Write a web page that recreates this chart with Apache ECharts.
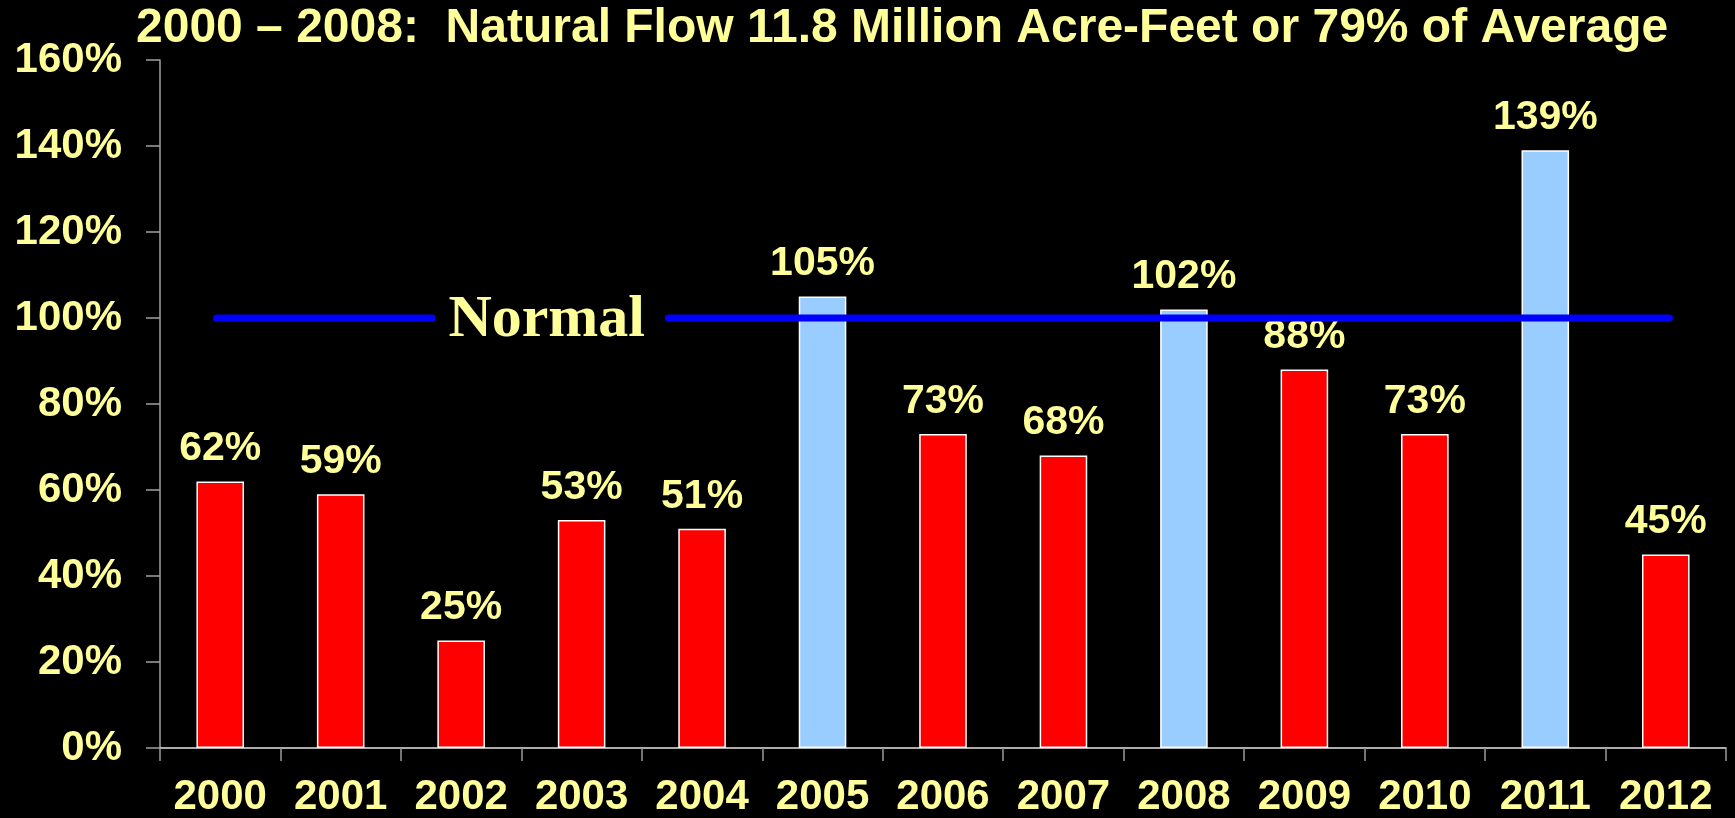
<!DOCTYPE html>
<html>
<head>
<meta charset="utf-8">
<script src="https://cdn.jsdelivr.net/npm/echarts@6/dist/echarts.min.js"></script>
<style>
  html, body { margin: 0; padding: 0; background: #000; }
  #chart { width: 1735px; height: 818px; }
</style>
</head>
<body>
<div id="chart"></div>
<script>
const years = ['2000', '2001', '2002', '2003', '2004', '2005', '2006', '2007', '2008', '2009', '2010', '2011', '2012'];
const flowPct = [62, 59, 25, 53, 51, 105, 73, 68, 102, 88, 73, 139, 45];
const yTicks = [0, 20, 40, 60, 80, 100, 120, 140, 160];
// normal line, in category units along the year axis
const normalLeft = [[0.47, 100], [2.26, 100]];
const normalRight = [[4.22, 100], [12.53, 100]];
const normalLabelAt = [[3.21, 100]];

const yellow = '#ffff99';
const red = '#ff0000';
const blue = '#99ccff';

const chart = echarts.init(document.getElementById('chart'));

const barData = flowPct.map(v => ({
  value: v,
  itemStyle: { color: v >= 100 ? blue : red },
}));

const normalLine = data => ({
  type: 'line',
  xAxisIndex: 1,
  data: data,
  symbol: 'none',
  silent: true,
  z: 5,
  lineStyle: { color: '#0000ff', width: 7, cap: 'round' },
});

chart.setOption({
  backgroundColor: '#000',
  animation: false,
  title: {
    text: '2000 – 2008:  Natural Flow 11.8 Million Acre-Feet or 79% of Average',
    left: 131,
    top: 0,
    textStyle: {
      color: yellow,
      fontFamily: 'Liberation Sans, Arial, sans-serif',
      fontWeight: 'bold',
      fontSize: 48,
    },
  },
  grid: { left: 160, right: 9, top: 60, bottom: 69 },
  xAxis: [
    {
      type: 'category',
      data: years,
      axisLine: { show: true, lineStyle: { color: '#e6e6e6', width: 1.5 } },
      axisTick: { show: true, length: 13, lineStyle: { color: '#9a9a9a', width: 1.5 } },
      axisLabel: {
        color: yellow,
        fontFamily: 'Liberation Sans, Arial, sans-serif',
        fontWeight: 'bold',
        fontSize: 42,
        margin: 28,
        interval: 0,
      },
    },
    {
      type: 'value',
      min: 0,
      max: years.length,
      show: false,
    },
  ],
  yAxis: {
    type: 'value',
    min: yTicks[0],
    max: yTicks[yTicks.length - 1],
    interval: 20,
    splitLine: { show: false },
    axisLine: { show: true, lineStyle: { color: '#a0a0a0', width: 1.5 } },
    axisTick: { show: true, length: 14, lineStyle: { color: '#a0a0a0', width: 1.5 } },
    axisLabel: {
      color: yellow,
      fontFamily: 'Liberation Sans, Arial, sans-serif',
      fontWeight: 'bold',
      fontSize: 42,
      margin: 38,
      formatter: '{value}%',
    },
  },
  series: [
    {
      type: 'bar',
      data: barData,
      barWidth: '39.5%',
      itemStyle: { borderColor: '#ffffff', borderWidth: 1.5 },
      label: {
        show: true,
        position: 'top',
        distance: 12,
        formatter: '{c}%',
        color: yellow,
        fontFamily: 'Liberation Sans, Arial, sans-serif',
        fontWeight: 'bold',
        fontSize: 41,
      },
    },
    normalLine(normalLeft),
    normalLine(normalRight),
    {
      type: 'scatter',
      xAxisIndex: 1,
      data: normalLabelAt,
      symbolSize: 1,
      silent: true,
      z: 6,
      itemStyle: { color: 'rgba(0,0,0,0)', opacity: 1 },
      label: {
        show: true,
        position: 'inside',
        formatter: 'Normal',
        color: yellow,
        opacity: 1,
        fontFamily: 'Liberation Serif, Times New Roman, serif',
        fontWeight: 'bold',
        fontSize: 60,
        offset: [0, 2],
      },
    },
  ],
});
</script>
</body>
</html>
